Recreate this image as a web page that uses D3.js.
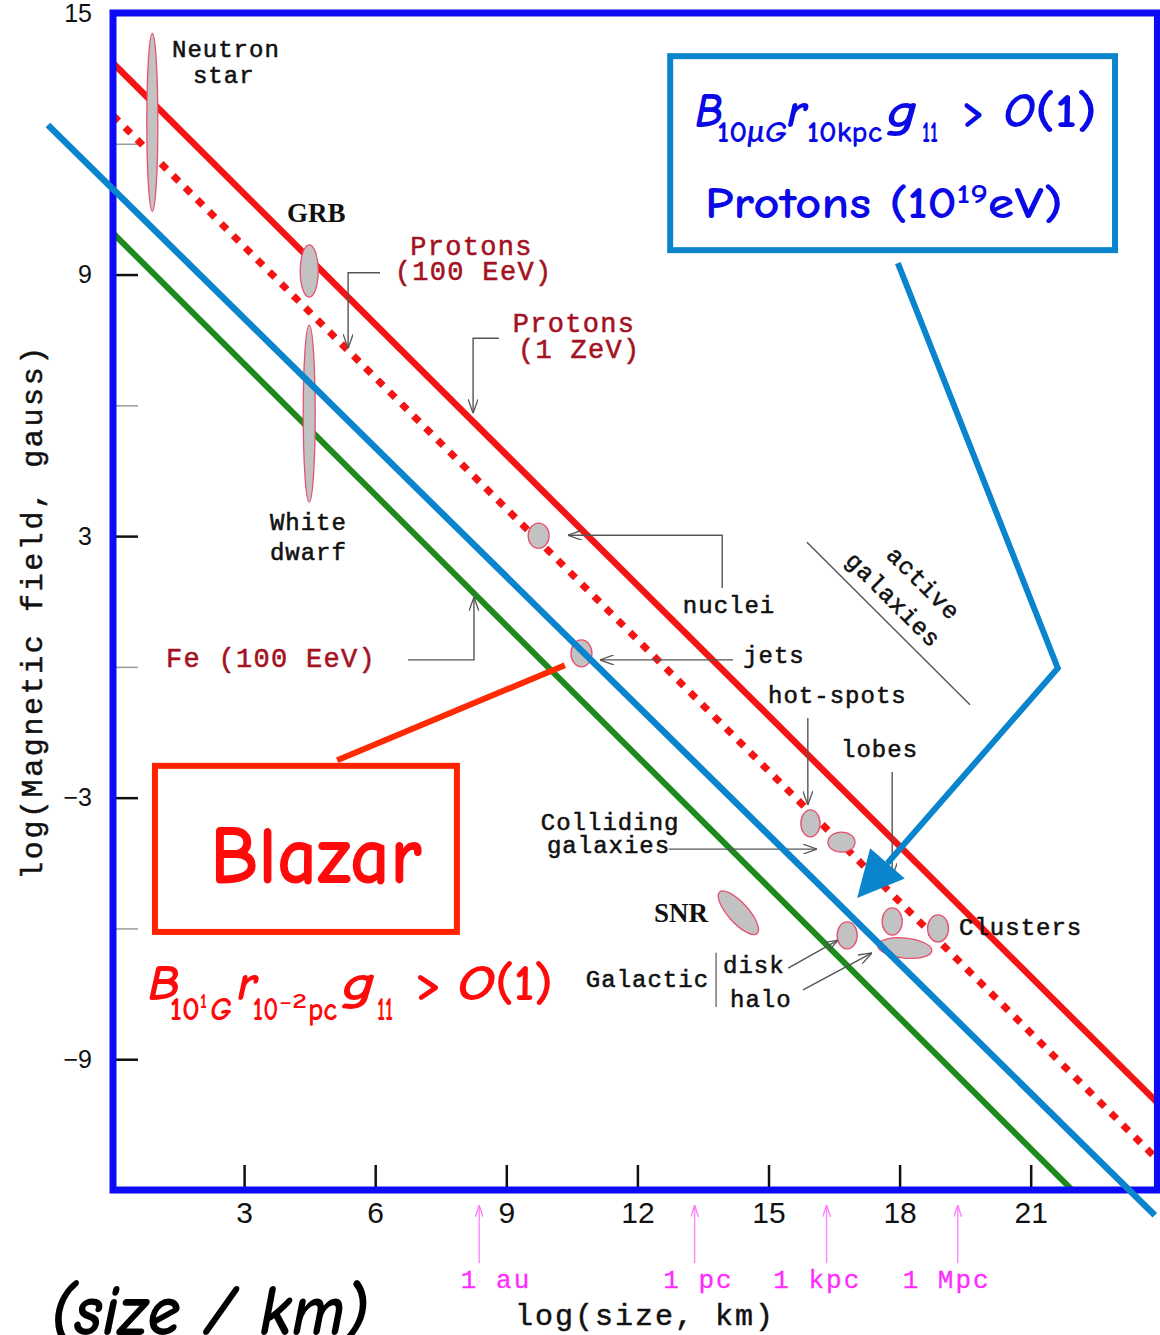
<!DOCTYPE html>
<html><head><meta charset="utf-8">
<script src="https://cdn.jsdelivr.net/npm/d3@7"></script>
<style>body{margin:0;background:#fff;} svg{display:block}</style>
</head><body>
<svg id="chart" width="1160" height="1335"></svg>
<script>
// ---------------- data (log10 size in km, log10 B in gauss) ----------------
const yTickValues = [15, 9, 3, -3, -9];
const yMinorTicks = [12, 6, 0, -6];
const xTickValues = [3, 6, 9, 12, 15, 18, 21];
const xTickLabels = ["3", "6", "9", "12", "15", "18", "21"];

// Hillas limit lines, endpoints
const protons1ZeV = [[0, 13.85], [23.9, -10.0]];
const protons100EeV = [[0, 12.65], [23.9, -11.3]];
const iron100EeV = [[0, 9.95], [21.95, -12.0]];
// overlaid limit line for axion conversion
const axionLine = [[-1.49, 12.43], [23.84, -12.58]];

// sources: centre and half extents
const sources = [
  {name: "Neutron star", logSize: 0.90, logB: 12.49, dSize: 0.126, dB: 2.04},
  {name: "GRB", logSize: 4.49, logB: 9.08, dSize: 0.206, dB: 0.60},
  {name: "White dwarf", logSize: 4.49, logB: 5.81, dSize: 0.137, dB: 2.03},
  {name: "AGN nuclei", logSize: 9.74, logB: 3.01, dSize: 0.24, dB: 0.29},
  {name: "AGN jets", logSize: 10.72, logB: 0.31, dSize: 0.24, dB: 0.31},
  {name: "hot-spots", logSize: 15.96, logB: -3.59, dSize: 0.22, dB: 0.31},
  {name: "lobes", logSize: 16.67, logB: -4.02, dSize: 0.31, dB: 0.23},
  {name: "SNR", logSize: 14.31, logB: -5.64, dSize: 0.64, dB: 0.23},
  {name: "Galactic disk", logSize: 16.80, logB: -6.16, dSize: 0.23, dB: 0.31},
  {name: "Colliding galaxies", logSize: 17.83, logB: -5.84, dSize: 0.23, dB: 0.31},
  {name: "Galactic halo", logSize: 18.12, logB: -6.45, dSize: 0.62, dB: 0.23},
  {name: "Clusters", logSize: 18.88, logB: -6.00, dSize: 0.24, dB: 0.31}
];
const sourceTilt = {"SNR": 48, "Galactic halo": 6};

// labels
const blackLabels = [
  ["Neutron", 1.35, 13.99], ["star", 1.83, 13.39], ["White", 3.59, 3.14], ["dwarf", 3.59, 2.45],
  ["nuclei", 13.04, 1.24], ["jets", 14.42, 0.09], ["hot-spots", 14.99, -0.83], ["lobes", 16.66, -2.07],
  ["Colliding", 9.79, -3.74], ["galaxies", 9.93, -4.28], ["Clusters", 19.36, -6.15],
  ["Galactic", 10.82, -7.34], ["disk", 13.96, -7.02], ["halo", 14.12, -7.80]
];
const redLabels = [
  ["Protons", 6.80, 9.45], ["(100 EeV)", 6.45, 8.87], ["Protons", 9.15, 7.68], ["(1 ZeV)", 9.27, 7.09],
  ["Fe (100 EeV)", 1.21, 0.0]
];
const boldLabels = [["GRB", 3.98, 10.21], ["SNR", 12.38, -5.85]];
const rotatedLabels = [["active", 18.42, 1.79], ["galaxies", 17.73, 1.41]];
const activeGalaxiesRule = [[15.88, 2.86], [19.61, -0.87]];

const leaders = [
  [[6.11, 9.04], [5.38, 9.04], [5.38, 7.31]],
  [[8.83, 7.54], [8.24, 7.54], [8.24, 5.82]],
  [[6.75, 0.16], [8.26, 0.16], [8.26, 1.60]],
  [[13.94, 1.81], [13.94, 3.02], [10.41, 3.02]],
  [[14.19, 0.16], [11.14, 0.16]],
  [[15.90, -1.17], [15.90, -3.17]],
  [[17.83, -2.41], [17.83, -4.82]],
  [[12.72, -4.18], [16.11, -4.18]],
  [[15.45, -6.91], [16.59, -6.27]],
  [[15.79, -7.41], [17.37, -6.56]]
];
const galacticBar = [[13.80, -6.56], [13.80, -7.80]];

const unitMarks = [["1 au", 8.38, 7.96], ["1 pc", 13.31, 12.59], ["1 kpc", 16.33, 15.11], ["1 Mpc", 19.33, 18.07]];
const unitArrowFrom = -13.68, unitArrowTo = -12.35, unitLabelBase = -14.25;

// annotation overlay
const blueBox = [[12.75, 14.01], [22.93, 9.56]];
const blueArrow = [[17.96, 9.26], [21.62, -0.03], [17.03, -5.30]];
const redBox = [[0.96, -2.27], [7.87, -6.08]];
const redConnector = [[5.13, -2.14], [10.34, 0.04]];
// formula pieces: text, x start, x end, baseline, role
const blueFormula = [
  ["B", 13.32, 13.96, 12.38, "main-i"], ["10|μG", 13.82, 15.42, 12.04, "sub"],
  ["r", 15.42, 15.88, 12.38, "main-i"], ["10kpc", 15.88, 17.60, 12.04, "sub"],
  ["g", 17.71, 18.40, 12.38, "main-i"], ["11", 18.51, 18.88, 12.04, "sub"],
  [">", 19.43, 19.95, 12.38, "main"], ["O", 20.37, 21.10, 12.38, "main-i"], ["(1)", 21.10, 22.52, 12.38, "main"],
  ["Protons (10", 13.55, 19.31, 10.30, "line2"], ["19", 19.31, 20.02, 10.64, "sup2"], ["eV)", 20.02, 21.74, 10.30, "line2"]
];
const redFormula = [
  ["B", 0.80, 1.53, -7.64, "main-i"], ["10", 1.30, 1.99, -8.10, "sub"], ["1", 1.99, 2.15, -7.83, "sup"],
  ["|G", 2.22, 2.72, -8.10, "sub"], ["r", 2.84, 3.30, -7.64, "main-i"], ["10", 3.20, 3.78, -8.10, "sub"],
  ["\u22122", 3.80, 4.44, -7.83, "sup"], ["pc", 4.46, 5.13, -8.10, "sub"], ["g", 5.24, 6.00, -7.64, "main-i"],
  ["11", 6.04, 6.41, -8.10, "sub"], [">", 6.91, 7.53, -7.64, "main"], ["O", 7.87, 8.74, -7.64, "main-i"],
  ["(1)", 8.74, 10.07, -7.64, "main"]
];
const blazarLabel = ["Blazar", 2.22, 7.07, -4.96];
const sizeCaption = ["(size / km)", -1.44, 5.86, -15.33];
const xTitle = ["log(size, km)", 9.20, -15.10];
const yTitle = ["log(Magnetic field, gauss)", -1.62, 1.26];

// ---------------- drawing ----------------
const svg = d3.select("#chart");
const x = d3.scaleLinear().domain([0, 24]).range([113, 1161.8]);
const y = d3.scaleLinear().domain([-12, 15]).range([1190, 13]);
const xMaxPlot = 23.9;
const MONO = "'Liberation Mono','Courier New',monospace";
const SANS = "'Liberation Sans',Arial,sans-serif";
const COMIC = "'Comic Sans MS','Comic Neue',Lato,sans-serif";

const defs = svg.append("defs");
defs.append("clipPath").attr("id", "plotClip").append("rect")
  .attr("x", x(0)).attr("y", y(15)).attr("width", x(xMaxPlot) - x(0)).attr("height", y(-12) - y(15));
function chevron(id, color, len, half) {
  defs.append("marker").attr("id", id).attr("markerUnits", "userSpaceOnUse")
    .attr("viewBox", `0 0 ${len} ${half * 2}`).attr("refX", len).attr("refY", half)
    .attr("markerWidth", len).attr("markerHeight", half * 2).attr("orient", "auto")
    .append("path").attr("d", `M0,0 L${len},${half} L0,${half * 2}`)
    .attr("fill", "none").attr("stroke", color).attr("stroke-width", 1.3);
}
chevron("arrGrey", "#555", 14, 5);
chevron("arrPink", "#ff77ff", 12, 4);

const line = d3.line().x(d => x(d[0])).y(d => y(d[1]));

// axes
const yAx = svg.append("g").attr("transform", `translate(${x(0)},0)`)
  .call(d3.axisLeft(y).tickValues(yTickValues).tickSize(-25).tickPadding(21));
const yMin = svg.append("g").attr("transform", `translate(${x(0)},0)`)
  .call(d3.axisLeft(y).tickValues(yMinorTicks).tickSize(-25).tickFormat(""));
const xAx = svg.append("g").attr("transform", `translate(0,${y(-12)})`)
  .call(d3.axisBottom(x).tickValues(xTickValues).tickSize(-25).tickPadding(12).tickFormat((d, i) => xTickLabels[i]));
[yAx, yMin, xAx].forEach(g => g.select(".domain").remove());
yAx.selectAll(".tick line").attr("stroke", "#111").attr("stroke-width", 2.5);
yMin.selectAll(".tick line").attr("stroke", "#9a9a9a").attr("stroke-width", 1.5);
xAx.selectAll(".tick line").attr("stroke", "#111").attr("stroke-width", 2.5);
yAx.selectAll("text").attr("font-family", SANS).attr("font-size", 25).attr("fill", "#111");
xAx.selectAll("text").attr("font-family", SANS).attr("font-size", 30).attr("fill", "#111");

// limit lines
const plot = svg.append("g").attr("clip-path", "url(#plotClip)");
plot.append("path").attr("d", line(iron100EeV)).attr("stroke", "#1e8a1e").attr("stroke-width", 6).attr("fill", "none");
plot.append("path").attr("d", line(protons100EeV)).attr("stroke", "#f41414").attr("stroke-width", 7)
  .attr("stroke-dasharray", "8,9").attr("fill", "none");
plot.append("path").attr("d", line(protons1ZeV)).attr("stroke", "#f41414").attr("stroke-width", 6.5).attr("fill", "none");

// sources
svg.append("g").selectAll("ellipse").data(sources).join("ellipse")
  .attr("cx", 0).attr("cy", 0)
  .attr("rx", d => x(d.logSize + d.dSize) - x(d.logSize))
  .attr("ry", d => y(d.logB - d.dB) - y(d.logB))
  .attr("transform", d => `translate(${x(d.logSize)},${y(d.logB)}) rotate(${sourceTilt[d.name] || 0})`)
  .attr("fill", "#c2c2c2").attr("stroke", "#e8506e").attr("stroke-width", 1.3);

// leaders
const lg = svg.append("g").attr("fill", "none").attr("stroke", "#555").attr("stroke-width", 1.4);
leaders.forEach(p => lg.append("path").attr("d", line(p)).attr("marker-end", "url(#arrGrey)"));
lg.append("path").attr("d", line(galacticBar)).attr("stroke-width", 1.2);
lg.append("path").attr("d", line(activeGalaxiesRule)).attr("stroke-width", 1.4);

// labels
function monoText(arr, color, size, ls) {
  svg.append("g").selectAll("text").data(arr).join("text")
    .attr("x", d => x(d[1])).attr("y", d => y(d[2])).text(d => d[0])
    .attr("font-family", MONO).attr("font-size", size).attr("letter-spacing", ls)
    .attr("fill", color).attr("stroke", color).attr("stroke-width", 0.55);
}
monoText(blackLabels, "#111", 24, 1);
monoText(redLabels, "#a3121f", 27, 1.3);
svg.append("g").selectAll("text").data(boldLabels).join("text")
  .attr("x", d => x(d[1])).attr("y", d => y(d[2])).text(d => d[0])
  .attr("font-family", "'Liberation Serif','Times New Roman',serif").attr("font-weight", "bold")
  .attr("font-size", 27).attr("fill", "#111");
svg.append("g").selectAll("text").data(rotatedLabels).join("text")
  .attr("transform", d => `translate(${x(d[1])},${y(d[2])}) rotate(45)`)
  .attr("text-anchor", "middle").text(d => d[0])
  .attr("font-family", MONO).attr("font-size", 24).attr("letter-spacing", 1)
  .attr("fill", "#111").attr("stroke", "#111").attr("stroke-width", 0.55);

// unit markers
const ug = svg.append("g");
unitMarks.forEach(u => {
  ug.append("line").attr("x1", x(u[1])).attr("x2", x(u[1])).attr("y1", y(unitArrowFrom)).attr("y2", y(unitArrowTo))
    .attr("stroke", "#ff88ff").attr("stroke-width", 1.4).attr("marker-end", "url(#arrPink)");
  ug.append("text").attr("x", x(u[2])).attr("y", y(unitLabelBase)).text(u[0])
    .attr("font-family", MONO).attr("font-size", 26).attr("letter-spacing", 2).attr("fill", "#ff2cff")
    .attr("stroke", "#ff2cff").attr("stroke-width", 0.3);
});

// axis titles
svg.append("text").attr("x", x(xTitle[1])).attr("y", y(xTitle[2])).text(xTitle[0])
  .attr("font-family", MONO).attr("font-size", 30).attr("letter-spacing", 2).attr("fill", "#111")
  .attr("stroke", "#111").attr("stroke-width", 0.5);
svg.append("text").attr("transform", `translate(${x(yTitle[1])},${y(yTitle[2])}) rotate(-90)`)
  .attr("text-anchor", "middle").text(yTitle[0])
  .attr("font-family", MONO).attr("font-size", 30).attr("letter-spacing", 2.6).attr("fill", "#111")
  .attr("stroke", "#111").attr("stroke-width", 0.5);

// plot frame
svg.append("rect").attr("x", x(0)).attr("y", y(15)).attr("width", x(xMaxPlot) - x(0)).attr("height", y(-12) - y(15))
  .attr("fill", "none").attr("stroke", "#0c0cf4").attr("stroke-width", 7);

// overlay annotations
const ov = svg.append("g");
ov.append("path").attr("d", line(axionLine)).attr("stroke", "#0a84cc").attr("stroke-width", 6.5).attr("fill", "none");
ov.append("rect").attr("x", x(blueBox[0][0])).attr("y", y(blueBox[0][1]))
  .attr("width", x(blueBox[1][0]) - x(blueBox[0][0])).attr("height", y(blueBox[1][1]) - y(blueBox[0][1]))
  .attr("fill", "none").attr("stroke", "#0a84cc").attr("stroke-width", 6);
// blue arrow with filled head
{
  const P = blueArrow.map(d => [x(d[0]), y(d[1])]);
  const tip = P[2], prev = P[1];
  const dx = tip[0] - prev[0], dy = tip[1] - prev[1], L = Math.hypot(dx, dy);
  const ux = dx / L, uy = dy / L, headLen = 46, headHalf = 23;
  const base = [tip[0] - ux * headLen, tip[1] - uy * headLen];
  ov.append("path").attr("d", d3.line()([P[0], P[1], base])).attr("stroke", "#0a84cc").attr("stroke-width", 6)
    .attr("fill", "none").attr("stroke-linejoin", "miter");
  ov.append("path").attr("d", d3.line()([tip, [base[0] - uy * headHalf, base[1] + ux * headHalf],
    [base[0] + uy * headHalf, base[1] - ux * headHalf]]) + "Z").attr("fill", "#0a84cc");
}
ov.append("rect").attr("x", x(redBox[0][0])).attr("y", y(redBox[0][1]))
  .attr("width", x(redBox[1][0]) - x(redBox[0][0])).attr("height", y(redBox[1][1]) - y(redBox[0][1]))
  .attr("fill", "none").attr("stroke", "#ff2200").attr("stroke-width", 6);
ov.append("path").attr("d", line(redConnector)).attr("stroke", "#ff2a00").attr("stroke-width", 6).attr("fill", "none");

const roleSize = {"main-i": 48, "main": 48, "sub": 30, "sup": 20, "line2": 44, "sup2": 27};
function formula(pieces, color, scale) {
  pieces.forEach(p => {
    const t = ov.append("text").attr("x", x(p[1])).attr("y", y(p[3]))
      .attr("textLength", x(p[2]) - x(p[1])).attr("lengthAdjust", "spacingAndGlyphs")
      .attr("font-family", COMIC).attr("font-weight", 600)
      .attr("font-size", roleSize[p[4]] * (p[4] === "sup" || p[4] === "sup2" ? 1 : scale))
      .attr("fill", color);
    if (p[4] === "main-i") t.attr("font-style", "italic");
    const parts = p[0].split("|");
    if (parts.length === 2) {
      if (parts[0]) t.append("tspan").text(parts[0]);
      t.append("tspan").attr("font-style", "italic").text(parts[1]);
    } else t.text(p[0]);
  });
}
formula(blueFormula, "#0a0ae6", 1);
formula(redFormula, "#ff0a0a", 1.04);
ov.append("text").attr("x", x(blazarLabel[1])).attr("y", y(blazarLabel[3])).text(blazarLabel[0])
  .attr("textLength", x(blazarLabel[2]) - x(blazarLabel[1])).attr("lengthAdjust", "spacingAndGlyphs")
  .attr("font-family", COMIC).attr("font-weight", 600).attr("font-size", 82).attr("fill", "#ff0a0a");
ov.append("text").attr("x", x(sizeCaption[1])).attr("y", y(sizeCaption[3])).text(sizeCaption[0])
  .attr("textLength", x(sizeCaption[2]) - x(sizeCaption[1])).attr("lengthAdjust", "spacingAndGlyphs")
  .attr("font-family", COMIC).attr("font-weight", 600).attr("font-style", "italic").attr("font-size", 72).attr("fill", "#000");
</script>
</body></html>
